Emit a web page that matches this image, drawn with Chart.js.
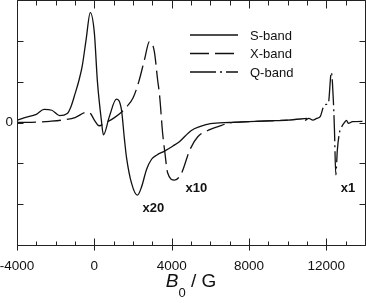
<!DOCTYPE html>
<html>
<head>
<meta charset="utf-8">
<script src="https://cdn.jsdelivr.net/npm/chart.js@4"></script>
<style>
    html, body { margin: 0; padding: 0; background: #fff; }
    canvas { display: block; }
</style>
</head>
<body>
<canvas id="eprChart" width="366" height="303"></canvas>
<script>
// EPR spectra (field in G, signal in arbitrary units)
const sBandField = [-4000, -3600, -3000, -2600, -2200, -1800, -1400, -1200, -1000, -780, -620, -420, -210, 0, 160, 360, 470, 780, 1140, 1400, 1560, 1660, 1920, 2230, 2440, 2700, 2960, 3220, 3630, 4050, 4400, 5000, 5450, 6000, 7000, 8000, 9000, 10000, 11000];
const sBandSignal = [0.05, 0.12, 0.2, 0.32, 0.3, 0.17, 0.22, 0.4, 0.7, 1.06, 1.4, 2.05, 2.69, 2.2, 1.0, 0.07, -0.3, 0.15, 0.57, 0.32, -0.42, -0.84, -1.48, -1.78, -1.58, -1.15, -0.9, -0.8, -0.7, -0.58, -0.47, -0.2, -0.1, -0.03, 0.0, 0.02, 0.04, 0.06, 0.1];

const xBandField = [-4000, -3000, -2300, -1500, -1000, -400, -200, 0, 250, 600, 1040, 1400, 1700, 2000, 2300, 2600, 2850, 3100, 3270, 3380, 3530, 3650, 3790, 4150, 4500, 4940, 5350, 6000, 6400, 7000, 8000, 9000, 10000];
const xBandSignal = [0.0, 0.01, 0.03, 0.07, 0.12, 0.25, 0.22, 0.06, -0.08, 0.0, 0.12, 0.25, 0.4, 0.6, 1.0, 1.55, 1.98, 1.75, 1.06, 0.64, -0.25, -0.74, -1.23, -1.41, -1.25, -0.67, -0.35, -0.17, -0.1, -0.01, 0.02, 0.04, 0.06];

const qBandField = [10900, 11100, 11300, 11500, 11690, 11840, 11950, 12100, 12260, 12360, 12420, 12490, 12570, 12680, 12780, 12940, 13040, 13140, 13350, 14000];
const qBandSignal = [0.05, 0.1, 0.06, 0.1, 0.15, 0.37, 0.44, 0.46, 1.23, 0.57, -0.17, -1.28, -0.67, -0.25, -0.12, 0.0, 0.05, -0.02, 0.02, 0.03];

const fieldTickLabels = [-4000, 0, 4000, 8000, 12000];
const signalTickLabels = [0];
const seriesNames = ['S-band', 'X-band', 'Q-band'];
const gainLabels = ['x20', 'x10', 'x1'];

const FONT = 'Arial, "Liberation Sans", sans-serif';
const INK = '#111';

function toPoints(field, signal) {
    return field.map((b, i) => ({ x: b, y: signal[i] }));
}

// Box, inward tick marks, tick labels, legend, gain notes and axis title
const decorations = {
    id: 'decorations',
    afterDraw(chart) {
        const { ctx, chartArea: a, scales: { x, y } } = chart;
        ctx.save();
        ctx.strokeStyle = '#222';
        ctx.lineWidth = 1;
        ctx.setLineDash([]);

        const L = a.left + 0.5, R = a.right + 0.5, T = a.top + 0.5, B = a.bottom + 0.5;
        ctx.beginPath();
        ctx.moveTo(L, T); ctx.lineTo(R, T); ctx.lineTo(R, B); ctx.lineTo(L, B); ctx.closePath();

        // field ticks: major every 4000, minor every 1000
        for (let v = x.min; v <= x.max; v += 1000) {
            const px = Math.round(x.getPixelForValue(v)) + 0.5;
            const major = fieldTickLabels.includes(v);
            ctx.moveTo(px, B - (major ? 7 : 4));
            ctx.lineTo(px, B + (major ? 5 : 0));
            ctx.moveTo(px, T);
            ctx.lineTo(px, T + (major ? 8 : 5));
        }
        // signal ticks
        for (let v = y.min; v <= y.max; v += 1) {
            const py = Math.round(y.getPixelForValue(v)) + 0.5;
            ctx.moveTo(L, py); ctx.lineTo(L + 6, py);
            ctx.moveTo(R, py); ctx.lineTo(R - 6, py);
        }
        ctx.stroke();

        // tick labels
        ctx.fillStyle = INK;
        ctx.font = '13.5px ' + FONT;
        ctx.textAlign = 'center';
        ctx.textBaseline = 'middle';
        fieldTickLabels.forEach(v => ctx.fillText(String(v), x.getPixelForValue(v), a.bottom + 21));
        ctx.textAlign = 'right';
        signalTickLabels.forEach(v => ctx.fillText(String(v), a.left - 4, y.getPixelForValue(v)));
        ctx.textAlign = 'left';

        // legend
        ctx.font = '13px ' + FONT;
        chart.data.datasets.forEach((ds, i) => {
            const ly = 35 + i * 18.5;
            ctx.beginPath();
            ctx.strokeStyle = ds.borderColor;
            ctx.lineWidth = ds.borderWidth;
            ctx.setLineDash(ds.borderDash || []);
            ctx.moveTo(190, ly);
            ctx.lineTo(238, ly);
            ctx.stroke();
            ctx.fillText(ds.label, 250, ly + 1);
        });
        ctx.setLineDash([]);

        // gain notes next to each spectrum's minimum
        ctx.font = 'bold 13px ' + FONT;
        ctx.textBaseline = 'top';
        chart.data.datasets.forEach((ds, i) => {
            let low = ds.data[0];
            ds.data.forEach(p => { if (p.y < low.y) low = p; });
            const off = ds.gainOffset;
            ctx.fillText(gainLabels[i], x.getPixelForValue(low.x) + off[0], y.getPixelForValue(low.y) + off[1]);
        });

        // axis title: B0 / G
        ctx.textBaseline = 'alphabetic';
        const cx = (a.left + a.right) / 2;
        ctx.font = 'italic 19px ' + FONT;
        const wB = ctx.measureText('B').width;
        ctx.font = '13px ' + FONT;
        const w0 = ctx.measureText('0').width;
        ctx.font = '19px ' + FONT;
        const wG = ctx.measureText(' / G').width;
        let tx = cx - (wB + w0 + wG) / 2;
        ctx.font = 'italic 19px ' + FONT;
        ctx.fillText('B', tx, 287);
        tx += wB;
        ctx.font = '13px ' + FONT;
        ctx.fillText('0', tx, 297);
        tx += w0;
        ctx.font = '19px ' + FONT;
        ctx.fillText(' / G', tx, 287);
        ctx.restore();
    }
};

const lineBase = {
    borderColor: INK,
    borderWidth: 1.3,
    pointRadius: 0,
    fill: false,
    cubicInterpolationMode: 'monotone'
};

new Chart(document.getElementById('eprChart'), {
    type: 'line',
    data: {
        datasets: [
            { ...lineBase, label: seriesNames[0], data: toPoints(sBandField, sBandSignal), gainOffset: [5, 7] },
            { ...lineBase, label: seriesNames[1], data: toPoints(xBandField, xBandSignal), borderDash: [19, 6], gainOffset: [11, 2] },
            { ...lineBase, label: seriesNames[2], data: toPoints(qBandField, qBandSignal), borderDash: [26, 4, 2, 4], gainOffset: [5, 7] }
        ]
    },
    options: {
        responsive: false,
        animation: false,
        layout: { padding: { top: 0, right: 1, left: 0, bottom: 0 } },
        plugins: {
            legend: { display: false },
            tooltip: { enabled: false }
        },
        scales: {
            x: {
                type: 'linear',
                min: -4000,
                max: 14000,
                grid: { display: false, drawTicks: false },
                border: { display: false },
                ticks: { display: false },
                afterFit: scale => { scale.height = 58; }
            },
            y: {
                min: -3,
                max: 3,
                grid: { display: false, drawTicks: false },
                border: { display: false },
                ticks: { display: false },
                afterFit: scale => { scale.width = 17; }
            }
        }
    },
    plugins: [decorations]
});
</script>
</body>
</html>
